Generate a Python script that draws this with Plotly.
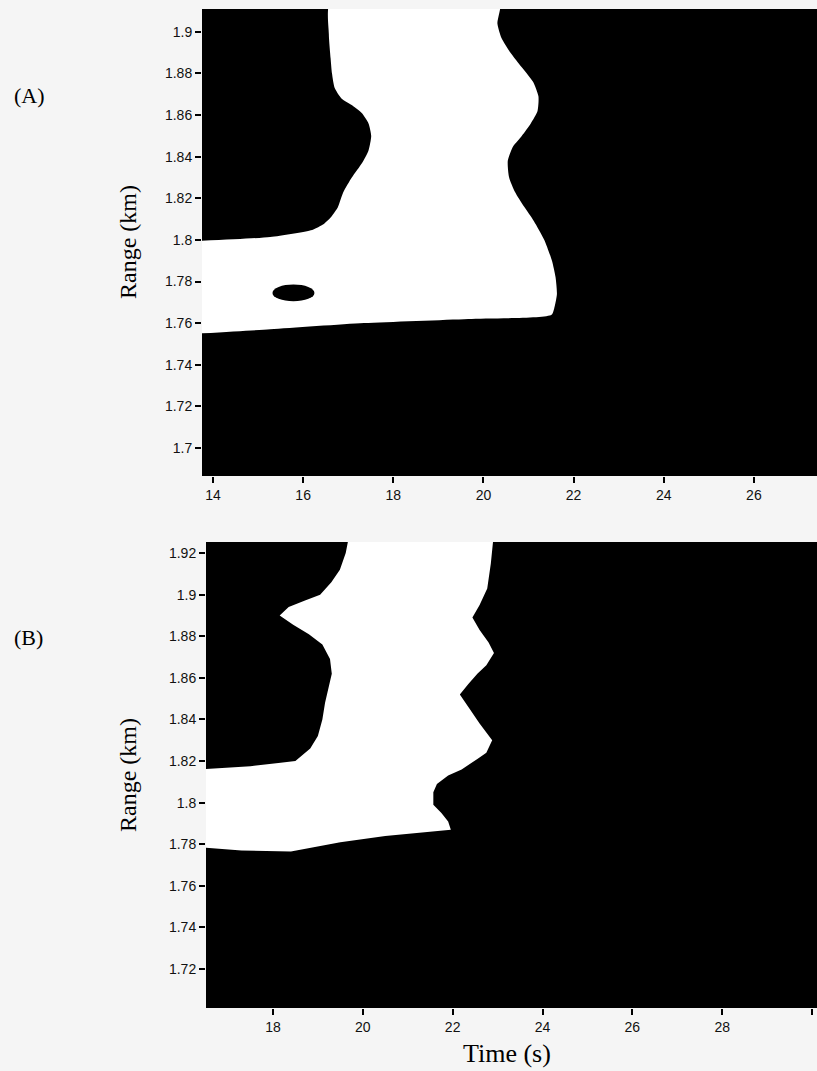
import plotly.graph_objects as go

# ---------------- Panel A data (time s, range km) ----------------
A_LEFT_T = [13.70, 15.27, 16.20, 16.45, 16.62, 16.77, 16.89, 17.08, 17.31, 17.45, 17.51, 17.45, 17.30, 17.10, 16.85, 16.70, 16.64, 16.61, 16.57, 16.61]
A_LEFT_R = [1.7995, 1.8014, 1.8048, 1.8075, 1.8110, 1.8157, 1.8229, 1.8300, 1.8371, 1.8430, 1.8500, 1.8560, 1.8610, 1.8645, 1.8680, 1.8730, 1.8800, 1.8871, 1.8990, 1.915]
A_RIGHT_T = [20.36, 20.31, 20.40, 20.60, 20.85, 21.10, 21.22, 21.20, 21.05, 20.85, 20.66, 20.54, 20.57, 20.70, 20.90, 21.12, 21.35, 21.52, 21.60, 21.63, 21.58, 21.51]
A_RIGHT_R = [1.915, 1.904, 1.897, 1.890, 1.883, 1.876, 1.869, 1.862, 1.856, 1.850, 1.845, 1.838, 1.830, 1.823, 1.816, 1.809, 1.800, 1.790, 1.782, 1.774, 1.768, 1.764]
A_BOTTOM_T = [19.66, 17.35, 15.27, 13.70]
A_BOTTOM_R = [1.762, 1.760, 1.757, 1.755]
A_BLOB_T = [15.32, 16.25]
A_BLOB_R = [1.7705, 1.7785]

# ---------------- Panel B data ----------------
B_LEFT_T = [16.40, 17.50, 18.50, 18.83, 19.00, 19.10, 19.16, 19.25, 19.31, 19.27, 19.10, 18.80, 18.45, 18.15, 18.35, 18.70, 19.05, 19.30, 19.49, 19.62, 19.71]
B_LEFT_R = [1.816, 1.8175, 1.820, 1.826, 1.832, 1.840, 1.848, 1.856, 1.862, 1.869, 1.876, 1.881, 1.8855, 1.890, 1.894, 1.897, 1.900, 1.906, 1.912, 1.920, 1.930]
B_RIGHT_T = [22.92, 22.85, 22.77, 22.60, 22.44, 22.60, 22.80, 22.92, 22.75, 22.55, 22.35, 22.16, 22.35, 22.60, 22.88, 22.75, 22.55, 22.20, 21.90, 21.65, 21.57, 21.57, 21.75, 21.90, 21.96]
B_RIGHT_R = [1.930, 1.915, 1.903, 1.895, 1.889, 1.883, 1.877, 1.872, 1.866, 1.862, 1.857, 1.852, 1.846, 1.838, 1.830, 1.824, 1.821, 1.816, 1.813, 1.809, 1.805, 1.799, 1.795, 1.791, 1.787]
B_BOTTOM_T = [20.50, 19.50, 18.40, 17.30, 16.40]
B_BOTTOM_R = [1.784, 1.781, 1.7765, 1.777, 1.7785]

# ---------------- Axes / ticks ----------------
A_XRANGE = [13.756, 27.40]
A_YRANGE = [1.6865, 1.911]
B_XRANGE = [16.51, 30.11]
B_YRANGE = [1.7013, 1.9253]
A_XTICKS = [14, 16, 18, 20, 22, 24, 26]
B_XTICKS = [18, 20, 22, 24, 26, 28, 30]
A_YTICKS = [1.70, 1.72, 1.74, 1.76, 1.78, 1.80, 1.82, 1.84, 1.86, 1.88, 1.90]
A_YLABELS = ["1.7", "1.72", "1.74", "1.76", "1.78", "1.8", "1.82", "1.84", "1.86", "1.88", "1.9"]
B_YTICKS = [1.72, 1.74, 1.76, 1.78, 1.80, 1.82, 1.84, 1.86, 1.88, 1.90, 1.92]
B_YLABELS = ["1.72", "1.74", "1.76", "1.78", "1.8", "1.82", "1.84", "1.86", "1.88", "1.9", "1.92"]

W, H = 817, 1071
BG = "#f5f5f5"

fig = go.Figure()

polyA_t = A_LEFT_T + A_RIGHT_T + A_BOTTOM_T
polyA_r = A_LEFT_R + A_RIGHT_R + A_BOTTOM_R
fig.add_trace(go.Scatter(x=polyA_t, y=polyA_r, mode="lines", fill="toself",
                         fillcolor="white", line=dict(color="white", width=0, shape="spline", smoothing=0.6),
                         xaxis="x", yaxis="y", showlegend=False, hoverinfo="skip"))

polyB_t = B_LEFT_T + B_RIGHT_T + B_BOTTOM_T
polyB_r = B_LEFT_R + B_RIGHT_R + B_BOTTOM_R
fig.add_trace(go.Scatter(x=polyB_t, y=polyB_r, mode="lines", fill="toself",
                         fillcolor="white", line=dict(color="white", width=0),
                         xaxis="x2", yaxis="y2", showlegend=False, hoverinfo="skip"))

fig.add_shape(type="circle", xref="x", yref="y",
              x0=A_BLOB_T[0], x1=A_BLOB_T[1], y0=A_BLOB_R[0], y1=A_BLOB_R[1],
              fillcolor="black", line=dict(color="black", width=0))

tickfont = dict(family="Arial", size=14, color="#111111")
axcommon = dict(showgrid=False, zeroline=False, ticks="outside", ticklen=6,
                tickwidth=1.5, tickcolor="black", tickfont=tickfont,
                showline=False, fixedrange=True)

fig.update_layout(
    width=W, height=H,
    margin=dict(l=0, r=0, t=0, b=0),
    paper_bgcolor=BG, plot_bgcolor="black",
    xaxis=dict(domain=[202 / W, 1.0], range=A_XRANGE, tickvals=A_XTICKS,
               anchor="y", **axcommon),
    yaxis=dict(domain=[1 - 476 / H, 1 - 9 / H], range=A_YRANGE,
               tickvals=A_YTICKS, ticktext=A_YLABELS, anchor="x", **axcommon),
    xaxis2=dict(domain=[206 / W, 1.0], range=B_XRANGE, tickvals=B_XTICKS,
                anchor="y2", **axcommon),
    yaxis2=dict(domain=[1 - 1008 / H, 1 - 542 / H], range=B_YRANGE,
                tickvals=B_YTICKS, ticktext=B_YLABELS, anchor="x2", **axcommon),
)

serif = "Liberation Serif"
fig.add_annotation(text="(A)", x=12 / W, y=1 - 95 / H, xref="paper", yref="paper",
                   xanchor="left", yanchor="middle", showarrow=False,
                   font=dict(family=serif, size=22, color="black"))
fig.add_annotation(text="(B)", x=12 / W, y=1 - 637 / H, xref="paper", yref="paper",
                   xanchor="left", yanchor="middle", showarrow=False,
                   font=dict(family=serif, size=22, color="black"))
fig.add_annotation(text="Range (km)", x=128 / W, y=1 - 242 / H, xref="paper", yref="paper",
                   xanchor="center", yanchor="middle", showarrow=False, textangle=-90,
                   font=dict(family=serif, size=24, color="black"))
fig.add_annotation(text="Range (km)", x=128 / W, y=1 - 775 / H, xref="paper", yref="paper",
                   xanchor="center", yanchor="middle", showarrow=False, textangle=-90,
                   font=dict(family=serif, size=24, color="black"))
fig.add_annotation(text="Time (s)", x=507 / W, y=1 - 1053 / H, xref="paper", yref="paper",
                   xanchor="center", yanchor="middle", showarrow=False,
                   font=dict(family=serif, size=26, color="black"))

fig.write_html("out.html")
